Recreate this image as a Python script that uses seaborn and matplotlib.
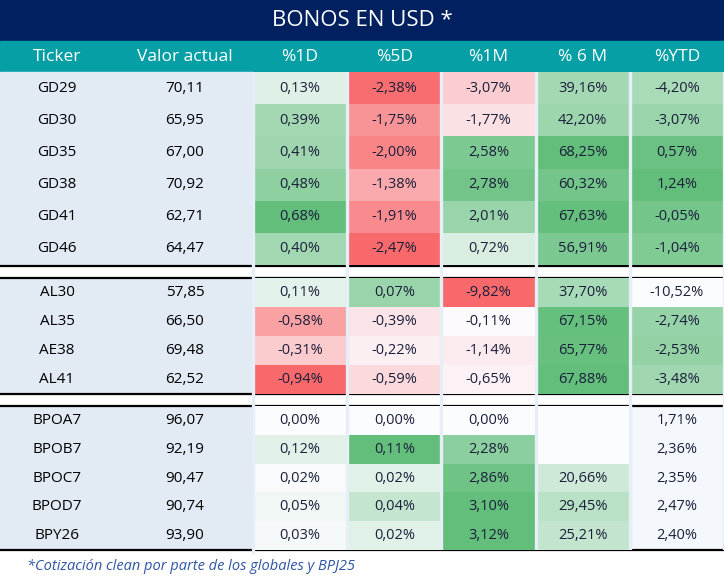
import numpy as np
import matplotlib.pyplot as plt
import seaborn as sns
from matplotlib.colors import LinearSegmentedColormap
from matplotlib.patches import Rectangle

sns.set_style("white")
plt.rcParams["font.family"] = ["Open Sans", "DejaVu Sans"]

# datos de la tabla
title = "BONOS EN USD *"
headers = ["Ticker", "Valor actual", "%1D", "%5D", "%1M", "% 6 M", "%YTD"]
group_sizes = [6, 4, 5]
tickers = ["GD29", "GD30", "GD35", "GD38", "GD41", "GD46",
           "AL30", "AL35", "AE38", "AL41",
           "BPOA7", "BPOB7", "BPOC7", "BPOD7", "BPY26"]
valor = [70.11, 65.95, 67.00, 70.92, 62.71, 64.47,
         57.85, 66.50, 69.48, 62.52,
         96.07, 92.19, 90.47, 90.74, 93.90]
pct_1d = [0.13, 0.39, 0.41, 0.48, 0.68, 0.40,
          0.11, -0.58, -0.31, -0.94,
          0.00, 0.12, 0.02, 0.05, 0.03]
pct_5d = [-2.38, -1.75, -2.00, -1.38, -1.91, -2.47,
          0.07, -0.39, -0.22, -0.59,
          0.00, 0.11, 0.02, 0.04, 0.02]
pct_1m = [-3.07, -1.77, 2.58, 2.78, 2.01, 0.72,
          -9.82, -0.11, -1.14, -0.65,
          0.00, 2.28, 2.86, 3.10, 3.12]
pct_6m = [39.16, 42.20, 68.25, 60.32, 67.63, 56.91,
          37.70, 67.15, 65.77, 67.88,
          np.nan, np.nan, 20.66, 29.45, 25.21]
pct_ytd = [-4.20, -3.07, 0.57, 1.24, -0.05, -1.04,
           -10.52, -2.74, -2.53, -3.48,
           1.71, 2.36, 2.35, 2.47, 2.40]
footnote = "*Cotización clean por parte de los globales y BPJ25"

vals = np.array([pct_1d, pct_5d, pct_1m, pct_6m, pct_ytd], dtype=float).T

# escala de color tipo Excel: rojo - blanco - verde
shade = np.full_like(vals, np.nan)
for j in range(4):
    c = vals[:, j]
    mn, mx = np.nanmin(c), np.nanmax(c)
    pos = c / mx
    neg = -c / mn if mn < 0 else np.zeros_like(c)
    shade[:, j] = np.where(c >= 0, pos, neg)
# %YTD: escala blanco -> verde solo para globales y bonares
n_ytd = group_sizes[0] + group_sizes[1]
ytd = vals[:n_ytd, 4]
shade[:n_ytd, 4] = (ytd - ytd.min()) / (ytd.max() - ytd.min())

labels = np.array([["" if np.isnan(v) else f"{v:.2f}%".replace(".", ",") for v in row] for row in vals])

cmap = LinearSegmentedColormap.from_list("excel", ["#F8696B", "#FCFCFF", "#63BE7B"])

W, H = 724, 581
fig = plt.figure(figsize=(W / 100, H / 100), dpi=100)
base = fig.add_axes([0, 0, 1, 1])
base.set_xlim(0, W)
base.set_ylim(H, 0)
base.axis("off")

navy = "#002060"
teal = "#069FA5"
label_bg = "#E2EAF4"
sep = "#E6EEF7"
txt = "#1A1F3A"

base.add_patch(Rectangle((0, 0), W, 41, color=navy, zorder=1))
base.text(W / 2, 20.5, title, color="white", fontsize=16, ha="center", va="center", zorder=2)
base.add_patch(Rectangle((0, 41), W, 31, color=teal, zorder=1))

x_left = 253
col_w = (W - x_left) / 5
head_x = [57, 185] + [x_left + col_w * (k + 0.5) for k in range(5)]
for hx, h in zip(head_x, headers):
    base.text(hx, 57, h, color="white", fontsize=12.5, ha="center", va="center", zorder=2)

# franjas de cada grupo (y en pixeles)
spans = [(72, 265), (278, 394), (406, 550)]
start = 0
for (y0, y1), n in zip(spans, group_sizes):
    base.add_patch(Rectangle((0, y0), x_left, y1 - y0, color=label_bg, zorder=1))
    rh = (y1 - y0) / n
    for i in range(n):
        yc = y0 + rh * (i + 0.5)
        base.text(57, yc, tickers[start + i], fontsize=11, ha="center", va="center", color="black", zorder=2)
        base.text(185, yc, f"{valor[start + i]:.2f}".replace(".", ","), fontsize=11,
                  ha="center", va="center", color="black", zorder=2)

    ax = fig.add_axes([x_left / W, 1 - y1 / H, (W - x_left) / W, (y1 - y0) / H])
    ax.set_facecolor("none")
    sl = slice(start, start + n)
    sns.heatmap(shade[sl], ax=ax, cmap=cmap, vmin=-1, vmax=1, cbar=False,
                annot=labels[sl], fmt="", annot_kws={"color": txt, "fontsize": 10.5},
                xticklabels=False, yticklabels=False, linewidths=0)
    # celdas sin formato condicional
    for i in range(n):
        for j in range(5):
            if np.isnan(shade[start + i, j]) and labels[start + i, j]:
                ax.text(j + 0.5, i + 0.5, labels[start + i, j], color=txt, fontsize=10.5,
                        ha="center", va="center")
    if start >= n_ytd:
        base.add_patch(Rectangle((x_left + 4 * col_w, y0), col_w, y1 - y0, color="#F4F7FC", zorder=1))
    ax.set_xlabel("")
    ax.set_ylabel("")
    for k in range(6):
        ax.axvline(k, color=sep, lw=2.4)
    start += n

# bordes negros
for yl in [266, 278, 394, 406, 550]:
    base.plot([0, W], [yl, yl], color="black", lw=1.6, zorder=3)
for k in range(5):
    xv = x_left + k * col_w
    base.plot([xv, xv], [264, 409], color=sep, lw=2.4, zorder=4)
base.plot([xv + col_w, xv + col_w], [264, 409], color=sep, lw=2.4, zorder=4)
base.plot([x_left, x_left], [545, 553], color=sep, lw=2.4, zorder=4)

base.text(27, 566, footnote, fontsize=10.5, style="italic", color="#2F55A4", ha="left", va="center")

fig.savefig("out.png", dpi=100)
